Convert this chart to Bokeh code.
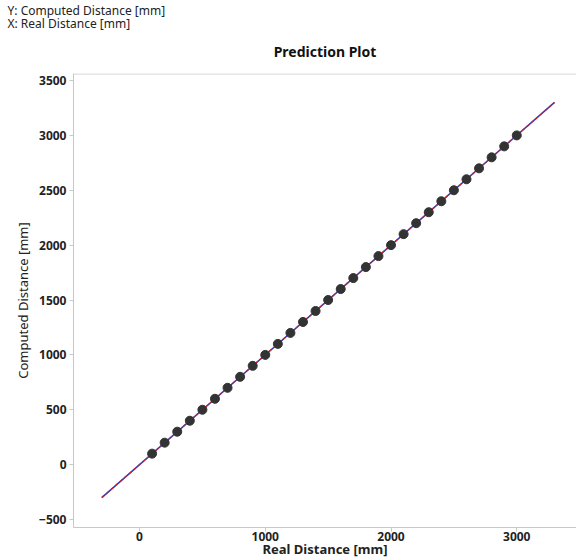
from bokeh.plotting import figure
from bokeh.models import Range1d, Title, FixedTicker, Span
from bokeh.embed import file_html
from bokeh.resources import INLINE

real = [100, 200, 300, 400, 500, 600, 700, 800, 900, 1000,
        1100, 1200, 1300, 1400, 1500, 1600, 1700, 1800, 1900, 2000,
        2100, 2200, 2300, 2400, 2500, 2600, 2700, 2800, 2900, 3000]
computed = [100, 200, 300, 400, 500, 600, 700, 800, 900, 1000,
            1100, 1200, 1300, 1400, 1500, 1600, 1700, 1800, 1900, 2000,
            2100, 2200, 2300, 2400, 2500, 2600, 2700, 2800, 2900, 3000]
line_x = [-300, 3300]
line_y = [-300, 3300]
x_ticks = [0, 1000, 2000, 3000]
y_ticks = [-500, 0, 500, 1000, 1500, 2000, 2500, 3000, 3500]

FONT = "Noto Sans"
GRAY = "#c8c8c8"
X0, X1 = -525, 3475
Y0, Y1 = -573, 3564

p = figure(width=576, height=560, output_backend="svg", toolbar_location=None,
           x_range=Range1d(X0, X1), y_range=Range1d(Y0, Y1),
           min_border_left=73, min_border_right=0, min_border_top=73, min_border_bottom=0)
p.title = None
p.outline_line_color = None
p.grid.visible = False

for ax in [p.xaxis[0], p.yaxis[0]]:
    ax.axis_line_color = GRAY
    ax.major_tick_line_color = GRAY
    ax.minor_tick_line_color = None
    ax.major_tick_in = 0
    ax.major_tick_out = 4
    ax.major_label_text_font = FONT
    ax.major_label_text_font_size = "12px"
    ax.major_label_text_font_style = "bold"
    ax.major_label_text_color = "#222222"
    ax.axis_label_text_font = FONT
    ax.axis_label_text_color = "#222222"
    ax.axis_label_text_font_style = "normal"

p.xaxis.ticker = FixedTicker(ticks=x_ticks)
p.yaxis.ticker = FixedTicker(ticks=y_ticks)
p.yaxis.axis_label = "Computed Distance [mm]"
p.yaxis.axis_label_text_font_size = "13px"
p.xaxis.axis_label = "Real Distance [mm]"
p.xaxis.axis_label_text_font_size = "13px"
p.xaxis.axis_label_text_font_style = "bold"
p.xaxis.major_label_standoff = 0
p.xaxis.axis_label_standoff = -4
p.yaxis.major_label_standoff = 3
p.yaxis.axis_label_standoff = 4

t_main = Title(text="Prediction Plot", align="center", text_font=FONT, text_font_size="14px",
               text_font_style="bold", text_color="#111111", standoff=26)
t_x = Title(text="X: Real Distance [mm]", align="left", offset=-66, text_font=FONT,
            text_font_size="12px", text_font_style="normal", text_color="#222222",
            standoff=-10)
t_y = Title(text="Y: Computed Distance [mm]", align="left", offset=-66, text_font=FONT,
            text_font_size="12px", text_font_style="normal", text_color="#222222",
            standoff=-3)
p.above = [t_main, t_x, t_y]

p.line(line_x, line_y, line_color="#3a3aa8", line_width=1.6)
p.line(line_x, line_y, line_color="#d0202a", line_width=1.2, line_dash="3 3")
p.scatter(real, computed, size=9, fill_color="#333333", line_color="#333333")

p.add_layout(Span(location=Y1 - 4, dimension="width", line_color=GRAY, line_width=1))

open("out.html", "w").write(file_html(p, INLINE))
